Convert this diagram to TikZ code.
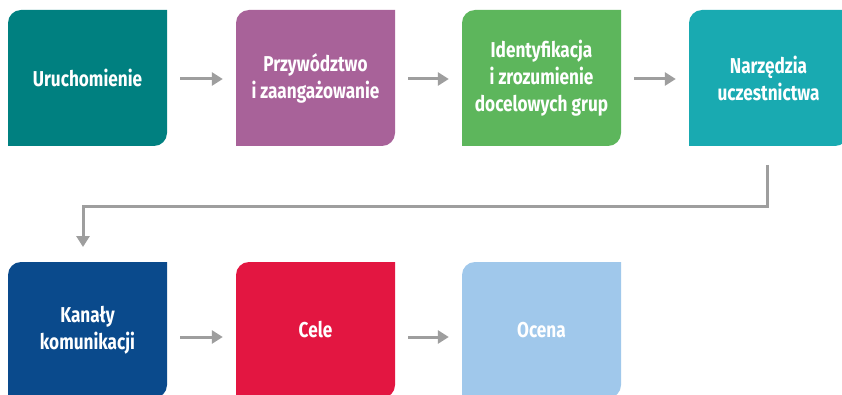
\documentclass[tikz,border=0pt]{standalone}
\usepackage{fontspec}
\setmainfont[FakeStretch=0.8]{Fira Sans}
\usetikzlibrary{arrows.meta}
\definecolor{cA}{HTML}{008080}
\definecolor{cB}{HTML}{A86299}
\definecolor{cC}{HTML}{5DB65C}
\definecolor{cD}{HTML}{19AAB1}
\definecolor{cE}{HTML}{0A4A8C}
\definecolor{cF}{HTML}{E31641}
\definecolor{cG}{HTML}{A0C8EB}
\definecolor{arr}{HTML}{9E9E9E}
\tikzset{
  leaf/.style={minimum width=159pt, minimum height=136pt, inner sep=0pt, text=white, align=center,
    font=\bfseries\fontsize{21.5}{27}\selectfont,
    path picture={\fill[#1] (path picture bounding box.south west) -- ([yshift=-13pt]path picture bounding box.north west) arc[start angle=180,end angle=90,radius=13pt] -- (path picture bounding box.north east) -- ([yshift=13pt]path picture bounding box.south east) arc[start angle=0,end angle=-90,radius=13pt] -- cycle;}},
  flow/.style={draw=arr, line width=3pt, -{Triangle[length=11pt,width=13pt]}},
  link/.style={draw=arr, line width=3pt}
}
\begin{document}
\begin{tikzpicture}[x=1pt,y=1pt]
\clip (0,0) rectangle (842,394);
\fill[white] (0,0) rectangle (842,394);
\node[leaf=cA] (n1) at (87.5,316) {Uruchomienie};
\node[leaf=cB] (n2) at (315.5,316) {Przywództwo\\i zaangażowanie};
\node[leaf=cC] (n3) at (541.5,316) {Identyfikacja\\i zrozumienie\\docelowych grup};
\node[leaf=cD] (n4) at (768.5,316) {Narzędzia\\uczestnictwa};
\node[leaf=cE] (n5) at (87.5,64) {Kanały\\komunikacji};
\node[leaf=cF] (n6) at (315.5,64) {Cele};
\node[leaf=cG] (n7) at (541.5,64) {Ocena};
\draw[flow] ([xshift=13pt]n1.east |- 0,315) -- ([xshift=-13pt]n2.west |- 0,315);
\draw[flow] ([xshift=13pt]n2.east |- 0,315) -- ([xshift=-13pt]n3.west |- 0,315);
\draw[flow] ([xshift=13pt]n3.east |- 0,315) -- ([xshift=-13pt]n4.west |- 0,315);
\draw[flow] ([xshift=13pt]n5.east |- 0,57) -- ([xshift=-13pt]n6.west |- 0,57);
\draw[flow] ([xshift=13pt]n6.east |- 0,57) -- ([xshift=-13pt]n7.west |- 0,57);
\coordinate (t1) at (767,229);
\coordinate (t2) at (767,188);
\coordinate (t3) at (83,188);
\coordinate (t4) at (83,147);
\draw[flow] (t1) -- (t2) -- (t3) -- (t4);
\end{tikzpicture}
\end{document}
